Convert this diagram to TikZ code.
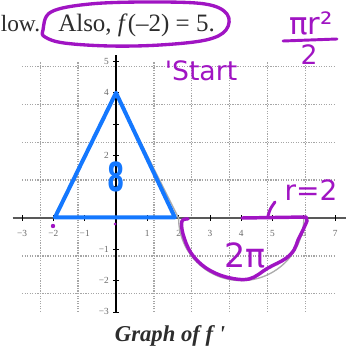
\documentclass[tikz,border=0pt]{standalone}
\usepackage{fontspec}
\setmainfont{Liberation Serif}
\newfontfamily\hand{DejaVu Sans}
\definecolor{pen}{RGB}{160,20,195}
\definecolor{blu}{RGB}{20,120,255}
\definecolor{ink}{RGB}{45,45,45}
\definecolor{labgray}{RGB}{105,105,105}
\tikzset{
  gridline/.style={gray!70, densely dotted, line width=0.9pt},
  ticklab/.style={font=\fontsize{7}{8}\selectfont, text=labgray, inner sep=0.5pt},
  penline/.style={pen, line width=2.6pt, line cap=round, line join=round},
  pentext/.style={font=\hand, text=pen, inner sep=0pt},
}
\begin{document}
\begin{tikzpicture}[x=0.75pt,y=-0.75pt]
\useasboundingbox (0,0) rectangle (345,352);
\fill[white] (0,0) rectangle (345,352);

% ---------- graph ----------
\begin{scope}[shift={(116,218)}, x={(23.475pt,0pt)}, y={(0pt,23.475pt)}]
  \draw[gridline] (-3,-3) grid (7,5);
  \draw[gray!70!black, line width=1.4pt] (-3.3,0) -- (7.4,0);
  \draw[black, line width=1.1pt] (0,5.2) -- (0,-3.05);
  \foreach \i in {-3,...,7} \draw[black, line width=0.6pt] (\i,-0.09) -- (\i,0.09);
  \foreach \i in {-3,...,5} \draw[black, line width=0.6pt] (-0.09,\i) -- (0.09,\i);
  \foreach \i/\t in {-3/−3,-2/−2,-1/−1,1/1,2/2,3/3,4/4,5/5,6/6,7/7}
    \node[ticklab, name=xl\i] at (\i,-0.5) {\t};
  \foreach \i/\t in {-3/−3,-2/−2,-1/−1,2/2,4/4,5/5}
    \node[ticklab, anchor=east, name=yl\i] at (-0.2,\i) {\t};
  % original graph of f'
  \coordinate (A) at (-2,0);
  \coordinate (T) at (0,4);
  \coordinate (B) at (2,0);
  \draw[gray!65, line width=1pt] (A) -- (T) -- (B) arc[start angle=180, end angle=360, radius=2];
  % blue triangle
  \coordinate (bA) at (-1.95,0.02);
  \coordinate (bB) at (1.88,0.02);
  \draw[blu, line width=3pt, line join=round] (bA) -- (T) -- (bB) -- cycle;
\end{scope}

\node[font=\hand\bfseries\fontsize{30}{32}\selectfont, text=blu, xscale=0.62, inner sep=0pt] (eight) at (116,176.5) {8};

% ---------- top text ----------
\node[anchor=base west, inner sep=0pt, text=ink, font=\fontsize{17.5}{20}\selectfont] (low) at (0.5,32) {low.};
\node[anchor=base west, inner sep=0pt, text=ink, font=\fontsize{18.75}{20}\selectfont] (also) at (58,32) {Also, \textit{f}(–2) = 5.};
\draw[penline, line width=2.5pt] plot[smooth cycle, tension=0.6] coordinates
  {(43,30) (51,12) (90,4) (150,2) (205,4) (227,14) (226,30) (206,40) (160,45) (110,46) (64,43) (45,37)};

% ---------- caption ----------
\node[anchor=base, inner sep=0pt, text=ink, font=\bfseries\itshape\fontsize{17}{18}\selectfont] (cap) at (170,341) {Graph of f \textquotesingle};

% ---------- purple annotations ----------
\draw[penline] plot[smooth, tension=0.6] coordinates
  {(188,219) (182,221) (183,234) (191,253) (206,268) (226,277) (249,279) (268,268) (285,259) (294,250) (298,240) (303,230) (307,221)};
\draw[penline] (242,218) -- (306,217) -- (307,221);
\draw[penline, line width=2.2pt] (268,216) .. controls (270,209) .. (275,202);
\fill[pen] (53,226) circle (2.2);
\fill[pen] (115,224) circle (1.5);

\node[pentext, font=\hand\fontsize{25}{26}\selectfont] (twopi) at (245,255) {2π};
\node[pentext, font=\hand\fontsize{21}{22}\selectfont] (r2) at (311,190) {r=2};
\node[pentext, font=\hand\fontsize{20}{22}\selectfont] (start) at (201,71) {\textquotesingle Start};
\node[pentext, font=\hand\fontsize{23}{24}\selectfont] (pir) at (311,23) {πr²};
\draw[penline, line width=2.2pt] (283,41) -- (337,39);
\node[pentext, font=\hand\fontsize{20}{22}\selectfont] (two) at (309,55) {2};
\end{tikzpicture}
\end{document}
